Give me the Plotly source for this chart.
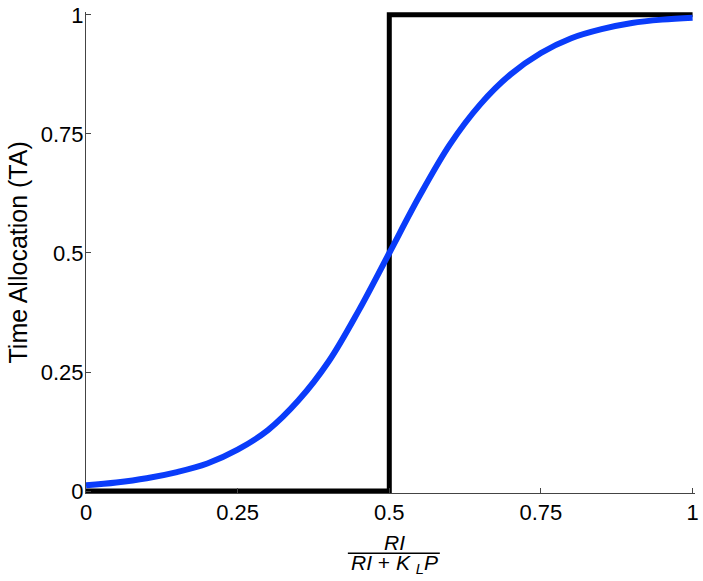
import plotly.graph_objects as go

# step allocation (black)
step_x = [0, 0.5, 0.5, 1]
step_y = [0, 0, 1, 1]

# smooth allocation (blue)
curve_x = [0, 0.05, 0.1, 0.15, 0.2, 0.25, 0.3, 0.35, 0.4, 0.45, 0.5,
           0.55, 0.6, 0.65, 0.7, 0.75, 0.8, 0.85, 0.9, 0.95, 1.0]
curve_y = [0.012, 0.018, 0.027, 0.040, 0.058, 0.087, 0.128, 0.19, 0.272, 0.38, 0.5,
           0.62, 0.728, 0.812, 0.875, 0.92, 0.951, 0.97, 0.983, 0.99, 0.994]

tick_vals = [0, 0.25, 0.5, 0.75, 1]
tick_text = ["0", "0.25", "0.5", "0.75", "1"]

FONT = "Liberation Sans, Arial, sans-serif"

fig = go.Figure()

fig.add_trace(go.Scatter(
    x=step_x, y=step_y, mode="lines",
    line=dict(color="#000000", width=5),
    showlegend=False
))

fig.add_trace(go.Scatter(
    x=curve_x, y=curve_y, mode="lines",
    line=dict(color="#0A3CFA", width=6, shape="spline", smoothing=1.0),
    showlegend=False
))

fig.update_layout(
    width=703, height=581,
    paper_bgcolor="white", plot_bgcolor="white",
    font=dict(family=FONT, color="black", size=22),
    margin=dict(l=86, r=8, t=12, b=88),
    showlegend=False,
    xaxis=dict(
        range=[0, 1.004], tickvals=tick_vals, ticktext=tick_text,
        ticks="inside", ticklen=5, tickcolor="#444",
        showline=True, linecolor="#444", linewidth=1,
        showgrid=False, zeroline=False, automargin=False,
        tickfont=dict(size=22), ticklabelstandoff=0,
    ),
    yaxis=dict(
        range=[-0.004, 1.006], tickvals=tick_vals, ticktext=tick_text,
        ticks="inside", ticklen=5, tickcolor="#444",
        showline=True, linecolor="#444", linewidth=1,
        showgrid=False, zeroline=False, automargin=False,
        tickfont=dict(size=22), ticklabelstandoff=-3,
    ),
)

# y axis title
fig.add_annotation(
    x=-0.1133, y=0.5, xref="paper", yref="paper",
    text="Time Allocation (TA)", textangle=-90, showarrow=False,
    font=dict(size=25), xanchor="center", yanchor="middle"
)

# x axis title drawn as a fraction
fig.add_annotation(
    x=0.506, y=-0.102, xref="paper", yref="paper",
    text="<i>RI</i>", showarrow=False, font=dict(size=21),
    xanchor="center", yanchor="middle"
)
fig.add_annotation(
    x=0.506, y=-0.148, xref="paper", yref="paper",
    text="<i>RI</i> + <i>K</i> <sub><i>L</i></sub><i>P</i>", showarrow=False,
    font=dict(size=21), xanchor="center", yanchor="middle"
)
fig.add_shape(
    type="line", xref="paper", yref="paper",
    x0=0.430, x1=0.581, y0=-0.125, y1=-0.125,
    line=dict(color="black", width=1.5)
)

# the page's default body margin would push the figure 8px right and down
fig.write_html(
    "out.html",
    config={"displayModeBar": False},
    post_script="document.body.style.margin='0';",
)
